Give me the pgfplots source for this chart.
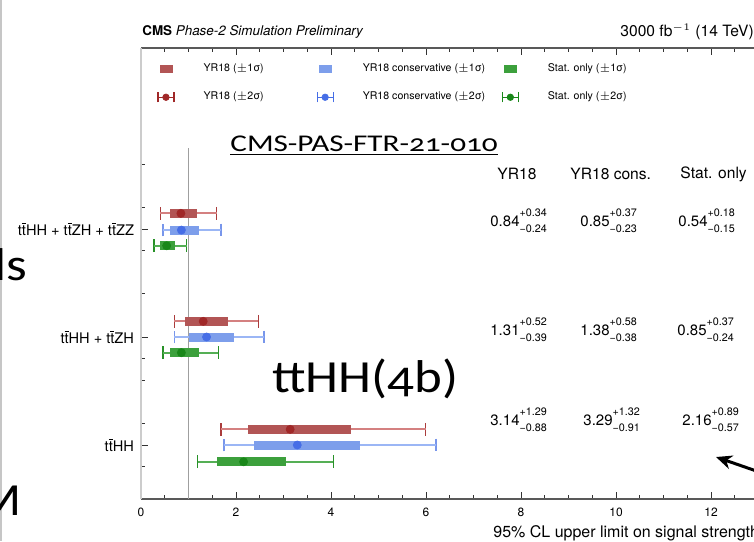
\documentclass[border=0pt]{standalone}
\usepackage{pgfplots}
\pgfplotsset{compat=1.18}
\usepackage{pgfplotstable}
\usepackage{fontspec}
\setmainfont{TeX Gyre Heros}
\newfontfamily\slide[FakeStretch=1.3,Numbers=OldStyle]{Carlito}
\newfontfamily\slidebig[FakeStretch=1.15,Numbers=OldStyle]{Carlito}
\usetikzlibrary{arrows.meta}

\definecolor{yrdark}{RGB}{160,40,40}
\definecolor{yrbox}{RGB}{178,85,85}
\definecolor{yrline}{RGB}{212,128,128}
\definecolor{yrcap}{RGB}{170,60,60}
\definecolor{consdark}{RGB}{70,110,230}
\definecolor{consbox}{RGB}{125,158,235}
\definecolor{consline}{RGB}{155,182,245}
\definecolor{conscap}{RGB}{120,150,235}
\definecolor{statdark}{RGB}{25,135,25}
\definecolor{statbox}{RGB}{60,160,60}
\definecolor{statline}{RGB}{85,175,85}
\definecolor{statcap}{RGB}{40,145,40}

\newcommand\tb{\ensuremath{\overline{\mbox{t}}}}
\newcommand\scr{\fontsize{5.4}{5.4}\selectfont}
\newcommand\val[3]{#1\rlap{\raisebox{0.62em}{\scr#2}}\raisebox{-0.45em}{\scr#3}}

% 95% CL upper limits: row position, median, +/-1 sigma, +/-2 sigma
\pgfplotstableread{
y      mu    p1    m1    p2    m2
2.645  0.84  0.34  0.24  0.75  0.43
1.645  1.31  0.52  0.39  1.16  0.61
0.645  3.14  1.29  0.88  2.85  1.46
}\yrone
\pgfplotstableread{
y      mu    p1    m1    p2    m2
2.49   0.85  0.37  0.23  0.83  0.39
1.50   1.38  0.58  0.38  1.21  0.68
0.50   3.29  1.32  0.91  2.92  1.54
}\yrcons
\pgfplotstableread{
y      mu    p1    m1    p2    m2
2.345  0.54  0.18  0.15  0.42  0.27
1.355  0.85  0.37  0.24  0.78  0.39
0.345  2.16  0.89  0.57  1.89  0.97
}\statonly

\pgfplotsset{
  % end caps of the 2 sigma band
  capbar/.style={color=#1, only marks, mark=*, mark size=0.4pt, forget plot,
    error bars/.cd, x dir=both, x explicit, error mark=|,
    error bar style={color=#1, line width=0.9pt},
    error mark options={color=#1, line width=0.7pt, mark size=3.2pt}},
  % plain horizontal band of given width
  band/.style 2 args={color=#1, only marks, mark=*, mark size=0.4pt, forget plot,
    error bars/.cd, x dir=both, x explicit, error mark=none,
    error bar style={color=#1, line width=#2}},
  central/.style={only marks, mark=*, mark size=2pt,
    mark options={draw=#1, fill=#1}, forget plot},
  boximg/.style={legend image code/.code={\fill[#1] (1pt,-1.75pt) rectangle (7pt,1.75pt);}},
  barimg/.style={legend image code/.code={%
    \draw[#1, line width=0.6pt] (0pt,0pt)--(8pt,0pt) (0pt,-2.5pt)--(0pt,2.5pt) (8pt,-2.5pt)--(8pt,2.5pt);
    \fill[#1] (4pt,0pt) circle (1.6pt);}},
}

\begin{document}
\begin{tikzpicture}
\path[use as bounding box] (0pt,0pt) rectangle (377pt,-270.5pt);
\clip (0pt,0pt) rectangle (377pt,-270.5pt);

\begin{axis}[
  at={(70.5pt,-249.5pt)}, anchor=south west,
  scale only axis, width=332.5pt, height=225.5pt,
  xmin=0, xmax=14, ymin=0, ymax=4.176,
  separate axis lines,
  x axis line style={black!65, line width=0.6pt},
  y axis line style={gray!40, line width=1.1pt},
  xtick={0,2,...,14}, minor x tick num=3,
  ytick={0.5,1.5,2.5},
  yticklabels={{t\tb{}HH}, {t\tb{}HH + t\tb{}ZH}, {t\tb{}HH + t\tb{}ZH + t\tb{}ZZ}},
  minor ytick={0.3,0.7,1.1,1.3,1.9,2.3,2.7,3.1},
  tick align=inside,
  major tick length=3.5pt, minor tick length=2pt,
  tick style={black!80, line width=0.5pt},
  /pgf/number format/assume math mode=true,
  xticklabel style={font=\fontsize{6}{7}\selectfont, yshift=-1pt},
  yticklabel style={font=\fontsize{7.3}{8}\selectfont},
  legend columns=3,
  legend cell align=left,
  legend style={draw=none, fill=none, at={(0.024,0.966)}, anchor=north west,
    inner sep=0pt, font=\fontsize{5.3}{6.3}\selectfont, nodes={inner sep=0pt},
    row sep=8.5pt, /tikz/every odd column/.style={column sep=14.5pt}},
]
% SM reference
\draw[gray!75, line width=0.8pt] (axis cs:1,0) -- (axis cs:1,3.25);

% +/-2 sigma: caps, then the light line over them
\addplot[capbar=yrcap]   table[x=mu, y=y, x error plus=p2, x error minus=m2] {\yrone};
\addplot[capbar=conscap] table[x=mu, y=y, x error plus=p2, x error minus=m2] {\yrcons};
\addplot[capbar=statcap] table[x=mu, y=y, x error plus=p2, x error minus=m2] {\statonly};
\addplot[band={yrline}{0.9pt}]   table[x=mu, y=y, x error plus=p2, x error minus=m2] {\yrone};
\addplot[band={consline}{0.9pt}] table[x=mu, y=y, x error plus=p2, x error minus=m2] {\yrcons};
\addplot[band={statline}{0.9pt}] table[x=mu, y=y, x error plus=p2, x error minus=m2] {\statonly};
% +/-1 sigma boxes
\addplot[band={yrbox}{4.5pt}]   table[x=mu, y=y, x error plus=p1, x error minus=m1] {\yrone};
\addplot[band={consbox}{4.5pt}] table[x=mu, y=y, x error plus=p1, x error minus=m1] {\yrcons};
\addplot[band={statbox}{4.5pt}] table[x=mu, y=y, x error plus=p1, x error minus=m1] {\statonly};
% medians
\addplot[central=yrdark]   table[x=mu, y=y] {\yrone};
\addplot[central=consdark] table[x=mu, y=y] {\yrcons};
\addplot[central=statdark] table[x=mu, y=y] {\statonly};

\addlegendimage{boximg=yrbox}
\addlegendentry{\makebox[56.5pt][l]{YR18 ($\pm$1σ)}}
\addlegendimage{boximg=consbox}
\addlegendentry{\makebox[69.5pt][l]{YR18 conservative ($\pm$1σ)}}
\addlegendimage{boximg=statbox}
\addlegendentry{Stat. only ($\pm$1σ)}
\addlegendimage{barimg=yrdark}
\addlegendentry{\makebox[56.5pt][l]{YR18 ($\pm$2σ)}}
\addlegendimage{barimg=consdark}
\addlegendentry{\makebox[69.5pt][l]{YR18 conservative ($\pm$2σ)}}
\addlegendimage{barimg=statdark}
\addlegendentry{Stat. only ($\pm$2σ)}
\end{axis}

\begin{scope}[x=0.5pt, y=-0.5pt]
  % frame edge of the page
  \draw[gray!45, line width=0.6pt] (1,0) -- (1,541);
  % header
  \node[anchor=west, inner sep=0pt, font=\fontsize{6.7}{8}\selectfont] at (142,32)
    {\textbf{CMS} \textit{Phase-2 Simulation Preliminary}};
  \node[anchor=west, inner sep=0pt, font=\fontsize{7.8}{9}\selectfont] at (620,32)
    {3000 fb$^{-1}$ (14 TeV)};
  % limit table
  \begin{scope}[every node/.style={anchor=west, inner sep=0pt, font=\fontsize{7.8}{9}\selectfont}]
    \node at (497,174) {YR18};
    \node at (570,174) {YR18 cons.};
    \node at (680,174) {Stat. only};
  \end{scope}
  \begin{scope}[every node/.style={anchor=west, inner sep=0pt, font=\fontsize{7.5}{8}\selectfont}]
    \node at (490,221) {\val{0.84}{+0.34}{−0.24}};
    \node at (580,221) {\val{0.85}{+0.37}{−0.23}};
    \node at (678,221) {\val{0.54}{+0.18}{−0.15}};
    \node at (490,330) {\val{1.31}{+0.52}{−0.39}};
    \node at (580,330) {\val{1.38}{+0.58}{−0.38}};
    \node at (677,330) {\val{0.85}{+0.37}{−0.24}};
    \node at (490,420) {\val{3.14}{+1.29}{−0.88}};
    \node at (583,420) {\val{3.29}{+1.32}{−0.91}};
    \node at (682,420) {\val{2.16}{+0.89}{−0.57}};
  \end{scope}
  \node[anchor=west, inner sep=0pt, font=\fontsize{8}{9}\selectfont] at (493,533)
    {95\% CL upper limit on signal strength};
  % slide annotations
  \node[anchor=base west, inner sep=0pt, font=\slide\fontsize{12}{14}\selectfont] at (230,151)
    {\underline{CMS-PAS-FTR-21-010}};
  \node[anchor=base west, inner sep=0pt, font=\slidebig\fontsize{23}{26}\selectfont] at (272,392)
    {ttHH(4b)};
  \node[anchor=base east, inner sep=0pt, font=\slidebig\fontsize{23}{26}\selectfont] at (28,280) {ls};
  \node[anchor=base east, inner sep=0pt, font=\slidebig\fontsize{23}{26}\selectfont] at (22,515) {M};
  \draw[line width=1.5pt, -{Stealth[length=8pt, width=7pt]}] (791,483) -- (716,457);
\end{scope}
\end{tikzpicture}
\end{document}
